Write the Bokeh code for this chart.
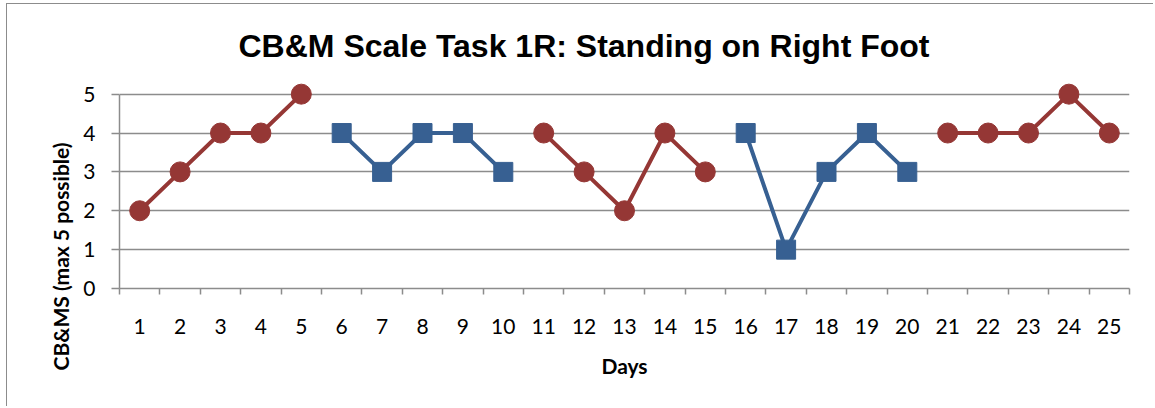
import math
from bokeh.plotting import figure
from bokeh.models import Range1d, FixedTicker, Title
from bokeh.embed import file_html
from bokeh.resources import INLINE

days = list(range(1, 26))
day_labels = [str(d) for d in days]
red_scores = [2, 3, 4, 4, 5, None, None, None, None, None,
              4, 3, 2, 4, 3, None, None, None, None, None,
              4, 4, 4, 5, 4]
blue_scores = [None, None, None, None, None, 4, 3, 4, 4, 3,
               None, None, None, None, None, 4, 1, 3, 4, 3,
               None, None, None, None, None]
y_ticks = [0, 1, 2, 3, 4, 5]

title_text = "CB&M Scale Task 1R: Standing on Right Foot"
y_label_text = "CB&MS  (max 5 possible)"
x_label_text = "Days"

RED = "#953735"
BLUE = "#376092"
GRID = "#8c8c8c"

red_y = [math.nan if v is None else v for v in red_scores]
blue_y = [math.nan if v is None else v for v in blue_scores]

p = figure(width=1147, height=403, output_backend="svg", toolbar_location=None,
           x_range=Range1d(0.5, 25.5), y_range=Range1d(0, 5.3),
           min_border_left=112, min_border_right=25,
           min_border_top=78, min_border_bottom=119)
p.outline_line_color = None
p.background_fill_color = "white"
p.border_fill_color = "white"
p.styles = {"margin-left": "6px", "margin-top": "3px",
            "border-left": "1px solid #8c8c8c", "border-top": "1px solid #8c8c8c"}

# title
p.title.text = title_text
p.title.align = "left"
p.title.offset = 119
p.title.text_font = "Liberation Sans"
p.title.text_font_style = "bold"
p.title.text_font_size = "32px"
p.title.text_color = "black"
p.title.standoff = 37

# y label as a left-side title, shifted down like the original
p.add_layout(Title(text=y_label_text, align="left", offset=-82,
                   text_font="Lato", text_font_style="bold",
                   text_font_size="21px", text_color="black", standoff=15), "left")

# grid
p.xgrid.grid_line_color = None
p.ygrid.ticker = FixedTicker(ticks=y_ticks)
p.ygrid.grid_line_color = GRID
p.ygrid.grid_line_width = 1.5

# x axis
xa = p.xaxis[0]
xa.ticker = FixedTicker(ticks=days, minor_ticks=[d - 0.5 for d in days] + [25.5])
xa.major_label_overrides = {d: s for d, s in zip(days, day_labels)}
xa.axis_line_color = GRID
xa.axis_line_width = 1.5
xa.major_tick_line_color = None
xa.major_tick_out = 0
xa.major_tick_in = 0
xa.minor_tick_line_color = GRID
xa.minor_tick_line_width = 1.5
xa.minor_tick_out = 6
xa.minor_tick_in = 0
xa.major_label_standoff = 24
xa.major_label_text_font = "Lato"
xa.major_label_text_font_size = "21px"
xa.major_label_text_color = "black"
xa.axis_label = x_label_text
xa.axis_label_standoff = 16
xa.axis_label_text_font = "Lato"
xa.axis_label_text_font_style = "bold"
xa.axis_label_text_font_size = "21px"
xa.axis_label_text_color = "black"

# y axis
ya = p.yaxis[0]
ya.ticker = FixedTicker(ticks=y_ticks)
ya.bounds = (0, 5)
ya.axis_line_color = GRID
ya.axis_line_width = 1.5
ya.major_tick_line_color = GRID
ya.major_tick_line_width = 1.5
ya.major_tick_out = 8
ya.major_tick_in = 0
ya.minor_tick_line_color = None
ya.major_label_standoff = 16
ya.major_label_text_font = "Lato"
ya.major_label_text_font_size = "21px"
ya.major_label_text_color = "black"

# series
p.line(days, red_y, line_color=RED, line_width=4)
p.scatter(days, red_y, marker="circle", size=20, fill_color=RED, line_color=RED)
p.line(days, blue_y, line_color=BLUE, line_width=4)
p.scatter(days, blue_y, marker="square", size=19, fill_color=BLUE, line_color=BLUE)

open("out.html", "w").write(file_html(p, INLINE))
